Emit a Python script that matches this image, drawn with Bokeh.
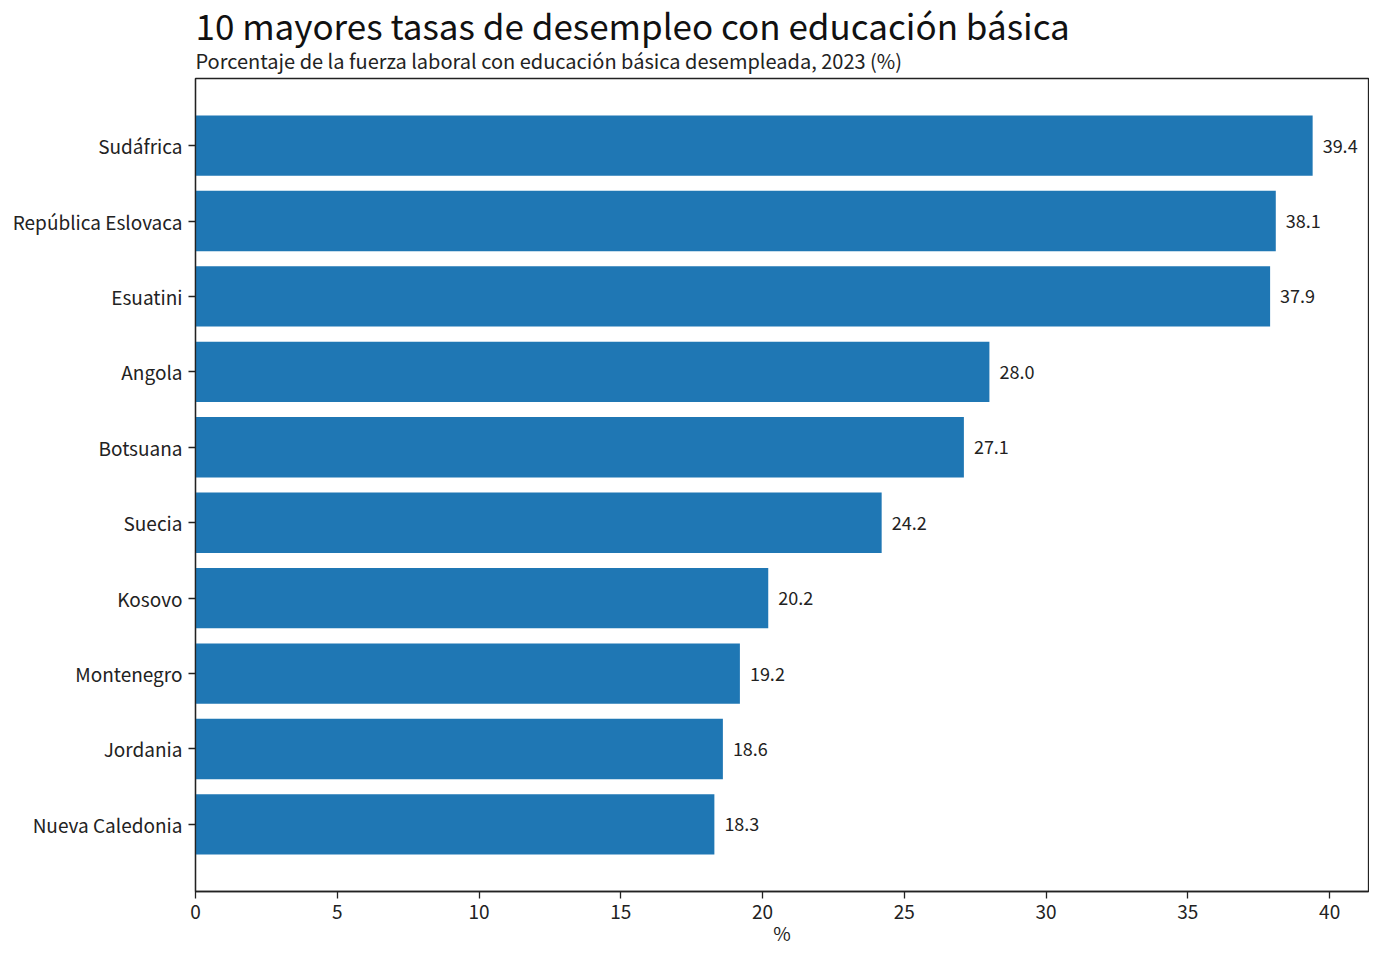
from bokeh.plotting import figure
from bokeh.models import FactorRange, Range1d, FixedTicker, Title, ColumnDataSource
from bokeh.core.properties import value
from bokeh.embed import file_html
from bokeh.resources import INLINE

countries = ["Sudáfrica", "República Eslovaca", "Esuatini", "Angola", "Botsuana",
             "Suecia", "Kosovo", "Montenegro", "Jordania", "Nueva Caledonia"]
rates = [39.4, 38.1, 37.9, 28.0, 27.1, 24.2, 20.2, 19.2, 18.6, 18.3]
x_ticks = [0, 5, 10, 15, 20, 25, 30, 35, 40]

title_text = "10 mayores tasas de desempleo con educación básica"
subtitle_text = "Porcentaje de la fuerza laboral con educación básica desempleada, 2023 (%)"
x_label = "%"

FONT = "Noto Sans CJK KR"

src = ColumnDataSource(dict(country=countries, rate=rates,
                            label=[f"{r:.1f}" for r in rates]))

factors = list(reversed(countries))
p = figure(width=1369, height=949,
           y_range=FactorRange(factors=factors, range_padding=0.39, range_padding_units="absolute"),
           x_range=Range1d(0, max(rates) * 1.05),
           output_backend="svg", toolbar_location=None,
           min_border_left=195, min_border_top=78, min_border_right=1, min_border_bottom=58)
p.title.visible = False

p.hbar(y="country", right="rate", left=0, height=0.8, source=src,
       fill_color="#1f77b4", line_color=None)
p.text(x="rate", y="country", text="label", source=src, x_offset=10,
       text_align="left", text_baseline="middle", text_font=value(FONT),
       text_font_size="18px", text_color="#222222")

p.xgrid.visible = False
p.ygrid.visible = False
p.outline_line_color = "#222222"
p.outline_line_width = 1.3
p.outline_line_alpha = 1

for ax in (p.xaxis[0], p.yaxis[0]):
    ax.axis_line_color = "#222222"
    ax.axis_line_width = 1.3
    ax.major_tick_line_color = "#222222"
    ax.major_tick_line_width = 1.3
    ax.major_tick_out = 7
    ax.major_tick_in = 0
    ax.minor_tick_line_color = None
    ax.major_label_text_font = FONT
    ax.major_label_text_font_size = "19px"
    ax.major_label_text_color = "#222222"
    ax.major_label_standoff = 6

p.xaxis.ticker = FixedTicker(ticks=x_ticks)
p.xaxis.major_label_standoff = 6
p.xaxis.axis_label = x_label
p.xaxis.axis_label_text_font = FONT
p.xaxis.axis_label_text_font_size = "19px"
p.xaxis.axis_label_text_font_style = "normal"
p.xaxis.axis_label_text_color = "#222222"
p.xaxis.axis_label_standoff = -3

p.add_layout(Title(text=subtitle_text, text_font=FONT, text_font_size="20px",
                   text_font_style="normal", text_color="#222222", standoff=7), "above")
p.add_layout(Title(text=title_text, text_font=FONT, text_font_size="35px",
                   text_font_style="normal", text_color="#111111", standoff=-19), "above")

open("out.html", "w").write(file_html(p, INLINE))
